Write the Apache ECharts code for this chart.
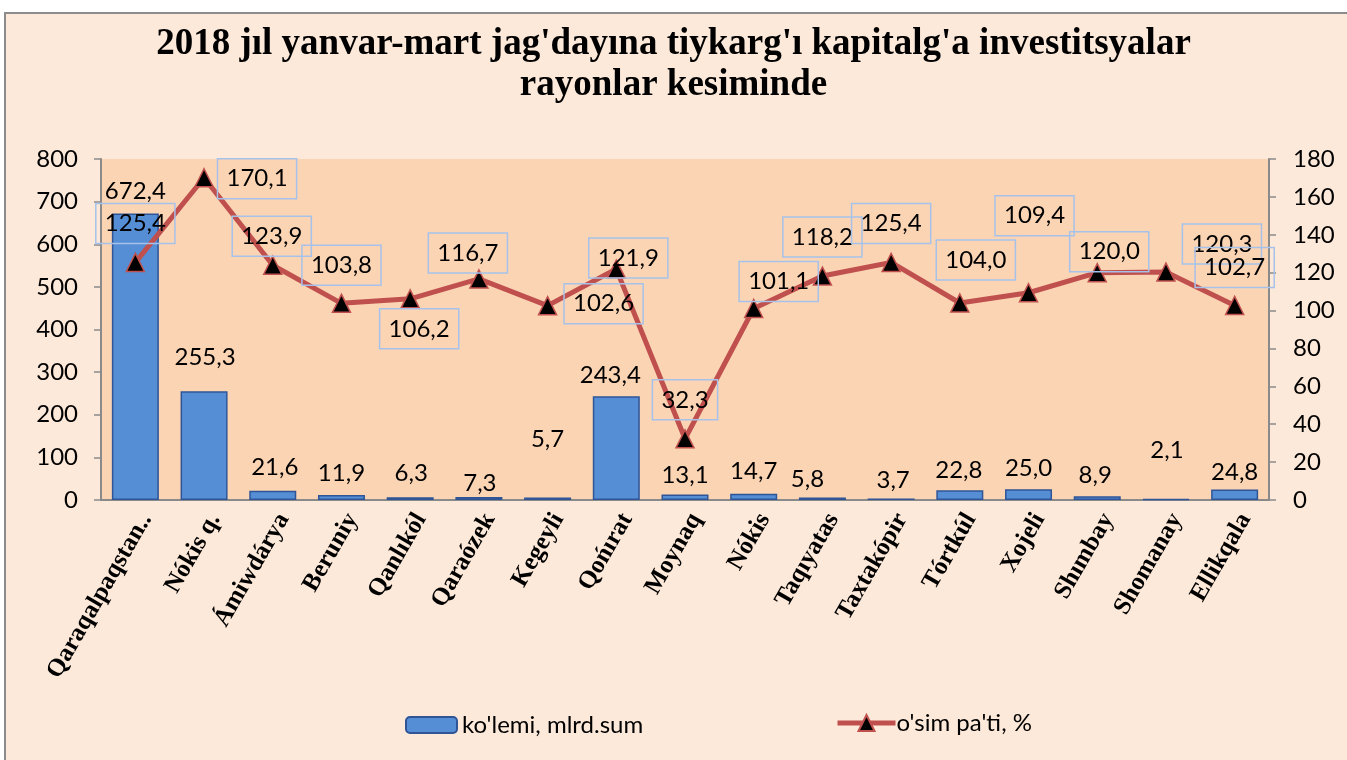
<!DOCTYPE html>
<html>
<head>
<meta charset="utf-8">
<script src="https://cdn.jsdelivr.net/npm/echarts@6/dist/echarts.min.js"></script>
<style>
  html, body { margin: 0; padding: 0; background: #fff; }
  #main { width: 1347px; height: 760px; }
</style>
</head>
<body>
<div id="main"></div>
<script>
// rayonlar
var categories = ["Qaraqalpaqstan..", "Nókis q.", "Ámiwdárya", "Beruniy", "Qanlıkól", "Qaraózek",
  "Kegeyli", "Qońırat", "Moynaq", "Nókis", "Taqıyatas", "Taxtakópir", "Tórtkúl", "Xojeli",
  "Shımbay", "Shomanay", "Ellikqala"];
// ko'lemi, mlrd.sum
var volumes = [672.4, 255.3, 21.6, 11.9, 6.3, 7.3, 5.7, 243.4, 13.1, 14.7, 5.8, 3.7, 22.8, 25.0, 8.9, 2.1, 24.8];
// o'sim pa'ti, %
var growth = [125.4, 170.1, 123.9, 103.8, 106.2, 116.7, 102.6, 121.9, 32.3, 101.1, 118.2, 125.4, 104.0, 109.4, 120.0, 120.3, 102.7];

// label placement (as in the original, labels were moved by hand)
var barLabelOffsets = [[0, -10], [1, -22], [2, -12], [0, -10], [1, -12], [1, -2], [0, -46], [-6, -9], [0, -7],
  [0, -10], [-15, -6], [2, -6], [-1, -8], [0, -9], [-2, -9], [1, -37], [0, -5]];
var lineLabelOffsets = [[0, -39], [53, 1], [-1, -29], [0, -38], [9, 30], [-11, -26], [56, -2], [12, -11], [0, -39],
  [25, -27], [0, -39], [0, -39], [16, -43], [6, -77], [12, -21], [56, -28], [0, -38]];

function fmt(v) {
  return v.toFixed(1).replace(".", ",");
}

var font = "Lato";
var axisColor = "#8a8a8a";

var chart = echarts.init(document.getElementById("main"));

chart.setOption({
  backgroundColor: "#fff",
  animation: false,
  graphic: [{
    type: "rect",
    z: -10,
    silent: true,
    shape: { x: 5, y: 13, width: 1400, height: 800 },
    style: { fill: "#FDE9D9", stroke: "#8c8c8c", lineWidth: 2 }
  }],
  title: {
    text: "2018 jıl yanvar-mart jag'dayına tiykarg'ı kapitalg'a investitsyalar\nrayonlar kesiminde",
    left: "center",
    top: 19,
    textStyle: {
      fontFamily: "Liberation Serif",
      fontWeight: "bold",
      fontSize: 37,
      lineHeight: 41,
      color: "#000"
    }
  },
  legend: [{
    data: ["ko'lemi, mlrd.sum"],
    left: 400,
    top: 708,
    itemWidth: 51,
    itemHeight: 16,
    itemGap: 11,
    textStyle: { fontFamily: font, fontSize: 24, color: "#000" }
  }, {
    data: ["o'sim pa'ti, %"],
    left: 830,
    top: 706,
    itemWidth: 58,
    itemHeight: 20,
    lineStyle: { width: 5 },
    textStyle: { fontFamily: font, fontSize: 24, color: "#000", padding: [0, 0, 0, -4] }
  }],
  grid: {
    show: true,
    left: 101,
    right: 78,
    top: 159,
    bottom: 260,
    backgroundColor: "#FBD4B4",
    borderWidth: 0
  },
  xAxis: {
    type: "category",
    data: categories,
    axisLine: { lineStyle: { color: axisColor, width: 2 } },
    axisTick: { show: false },
    axisLabel: {
      interval: 0,
      rotate: 60,
      margin: 9,
      verticalAlign: "top",
      fontFamily: "Liberation Serif",
      fontWeight: "bold",
      fontSize: 25,
      color: "#000"
    }
  },
  yAxis: [{
    type: "value",
    min: 0,
    max: 800,
    interval: 100,
    splitLine: { show: false },
    axisLine: { show: true, lineStyle: { color: axisColor, width: 2 } },
    axisTick: { show: true, length: 7, lineStyle: { color: axisColor, width: 1.5 } },
    axisLabel: { fontFamily: font, fontSize: 24, color: "#000", margin: 23 }
  }, {
    type: "value",
    min: 0,
    max: 180,
    interval: 20,
    splitLine: { show: false },
    axisLine: { show: true, lineStyle: { color: axisColor, width: 2 } },
    axisTick: { show: true, length: 7, lineStyle: { color: axisColor, width: 1.5 } },
    axisLabel: { fontFamily: font, fontSize: 24, color: "#000", margin: 24 }
  }],
  series: [{
    name: "ko'lemi, mlrd.sum",
    type: "bar",
    yAxisIndex: 0,
    barWidth: 47,
    itemStyle: { color: "#558ED5", borderColor: "#2F5597", borderWidth: 1.5 },
    label: {
      show: true,
      position: "top",
      distance: 0,
      fontFamily: font,
      fontSize: 24,
      lineHeight: 24,
      color: "#000",
      formatter: function (p) { return fmt(p.value); }
    },
    data: volumes.map(function (v, i) {
      return { value: v, label: { offset: barLabelOffsets[i] } };
    })
  }, {
    name: "o'sim pa'ti, %",
    type: "line",
    yAxisIndex: 1,
    z: 5,
    symbol: "triangle",
    symbolSize: 18,
    lineStyle: { color: "#C0504D", width: 5 },
    itemStyle: { color: "#000", borderColor: "#C0504D", borderWidth: 1.5 },
    label: {
      show: true,
      position: "inside",
      fontFamily: font,
      fontSize: 24,
      lineHeight: 24,
      color: "#000",
      borderColor: "#A7C2EA",
      borderWidth: 1.5,
      padding: [8, 9, 8, 9],
      formatter: function (p) { return fmt(p.value); }
    },
    data: growth.map(function (v, i) {
      return { value: v, label: { offset: lineLabelOffsets[i] } };
    })
  }]
});
</script>
</body>
</html>
